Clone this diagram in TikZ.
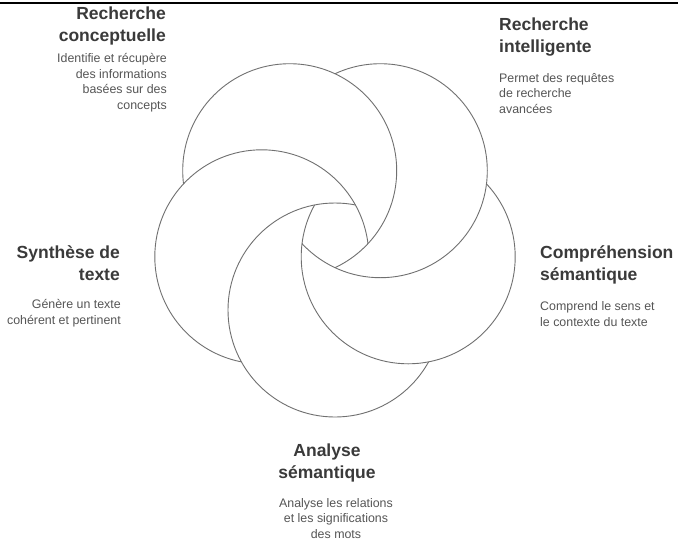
\documentclass[tikz,border=0pt]{standalone}
\usepackage{fontspec}
\setmainfont{Liberation Sans}
\definecolor{ttl}{HTML}{3A3A3A}
\definecolor{dsc}{HTML}{555555}
\definecolor{ring}{HTML}{707070}
\begin{document}
\begin{tikzpicture}[x=1pt,y=-1pt,
  ringline/.style={draw=ring, line width=0.9pt},
  ttlnode/.style={font=\fontsize{17.5}{22}\selectfont\bfseries, text=ttl, inner sep=0pt},
  dscnode/.style={font=\fontsize{12.4}{15.5}\selectfont, text=dsc, inner sep=0pt}]
\useasboundingbox (0,0) rectangle (678,542);
\fill[white] (0,0) rectangle (678,542);
\draw[line width=2pt] (0,3) -- (678,3);
% circle centres
\coordinate (cTL) at (289.7,170.7);
\coordinate (cTR) at (380.3,170.7);
\coordinate (cR)  at (408.2,256.8);
\coordinate (cB)  at (335,310);
\coordinate (cL)  at (261.8,256.8);
% ring k is visible outside its predecessor, or inside its successor
\foreach \k/\p/\s in {cTL/cL/cTR, cTR/cTL/cR, cR/cTR/cB, cB/cR/cL, cL/cB/cTL}{
  \begin{scope}[even odd rule]
    \clip (-20,-20) rectangle (700,560) (\p) circle (107pt);
    \draw[ringline] (\k) circle (107pt);
  \end{scope}
  \begin{scope}
    \clip (\p) circle (107pt);
    \clip (\s) circle (107pt);
    \draw[ringline] (\k) circle (107pt);
  \end{scope}
}
% texts
\node[ttlnode, align=right, anchor=base east] (tTL) at (166,41) {Recherche\\conceptuelle};
\node[dscnode, align=right, anchor=base east] (dTL) at (167,109) {Identifie et récupère\\des informations\\basées sur des\\concepts};
\node[ttlnode, align=left, anchor=base west] (tTR) at (499,52) {Recherche\\intelligente};
\node[dscnode, align=left, anchor=base west] (dTR) at (499,113) {Permet des requêtes\\de recherche\\avancées};
\node[ttlnode, align=right, anchor=base east] (tL) at (120,280) {Synthèse de\\texte};
\node[dscnode, align=right, anchor=base east] (dL) at (121,324) {Génère un texte\\cohérent et pertinent};
\node[ttlnode, align=left, anchor=base west] (tR) at (540,280) {Compréhension\\sémantique};
\node[dscnode, align=left, anchor=base west] (dR) at (540,326) {Comprend le sens et\\le contexte du texte};
\node[ttlnode, align=center, anchor=base] (tB) at (327,478) {Analyse\\sémantique};
\node[dscnode, align=center, anchor=base] (dB) at (336,538) {Analyse les relations\\et les significations\\des mots};
\end{tikzpicture}
\end{document}
